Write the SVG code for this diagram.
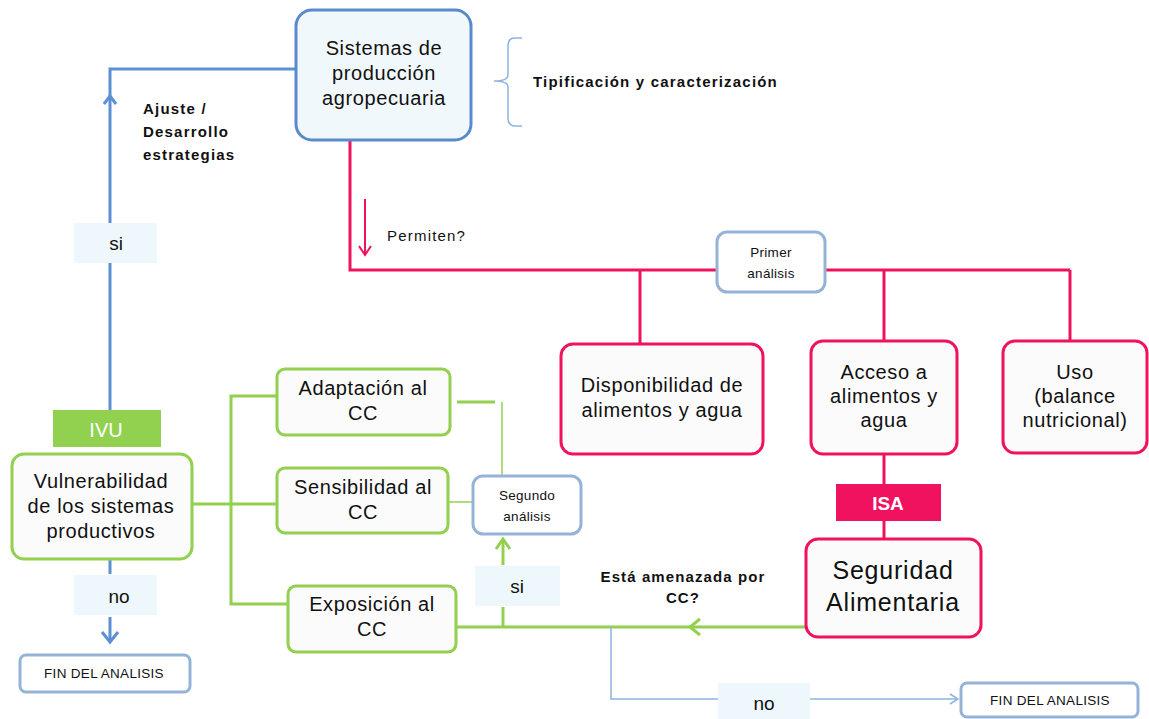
<svg xmlns="http://www.w3.org/2000/svg" width="1149" height="719" viewBox="0 0 1149 719">
  <style>
    text { font-family: "Liberation Sans", Arial, sans-serif; fill: #111; text-anchor: middle; }
    .box-blue { fill: #f1f8fb; stroke: #5a8acb; stroke-width: 3; }
    .box-lblue { fill: #ffffff; stroke: #95b3d7; stroke-width: 3; }
    .box-pink { fill: #fbfbfb; stroke: #f0125f; stroke-width: 3; }
    .box-green { fill: #fbfbfb; stroke: #92d050; stroke-width: 3; }
    .tag { fill: #eef8fc; }
    .pink { stroke: #f0125f; stroke-width: 3; fill: none; }
    .green { stroke: #92d050; stroke-width: 3; fill: none; }
    .green-thin { stroke: #92d050; stroke-width: 1.5; fill: none; }
    .blue { stroke: #5b8fd6; stroke-width: 3; fill: none; }
    .blue-thin { stroke: #8db3e2; stroke-width: 1.5; fill: none; }
    .lbl { font-weight: bold; font-size: 15px; letter-spacing: 1.2px; text-anchor: start; }
    .q { font-weight: bold; font-size: 15px; letter-spacing: 1.1px; }
    .n18 { font-size: 20px; letter-spacing: 0.6px; }
    .n13 { font-size: 13.5px; letter-spacing: 0.3px; }
  </style>

  <rect width="1149" height="719" fill="#ffffff"/>

  <!-- connectors -->
  <g id="connectors">
    <!-- blue feedback loop -->
    <polyline class="blue" points="110,410 110,69 296,69"/>
    <polyline class="blue" points="104,104 110,96 116,104" stroke-width="1.5"/>
    <line class="blue" x1="110" y1="559" x2="110" y2="574"/>
    <line class="blue" x1="110" y1="617" x2="110" y2="642"/>
    <polyline class="blue" points="102,632 110,642 118,632"/>
    <!-- brace -->
    <path d="M522,38 H515 Q508,38 508,46 V75 Q508,81 494,81 Q508,81 508,87 V118 Q508,126 515,126 H522" fill="none" stroke="#8db3e2" stroke-width="1.5"/>
    <!-- pink tree -->
    <polyline class="pink" points="350,140 350,270 717,270"/>
    <line class="pink" x1="825" y1="270" x2="1070" y2="270"/>
    <line class="pink" x1="640" y1="270" x2="640" y2="344"/>
    <line class="pink" x1="884" y1="270" x2="884" y2="341"/>
    <line class="pink" x1="1070" y1="270" x2="1070" y2="341"/>
    <line class="pink" x1="884" y1="454" x2="884" y2="484"/>
    <line class="pink" x1="884" y1="521" x2="884" y2="539"/>
    <line stroke="#f0125f" stroke-width="2" x1="365" y1="199" x2="365" y2="254"/>
    <polyline stroke="#f0125f" stroke-width="2" fill="none" points="359,246 365,255 371,246"/>
    <!-- green tree -->
    <line class="green" x1="192" y1="504" x2="277" y2="504"/>
    <polyline class="green" points="277,396 231,396 231,604 288,604"/>
    <line class="green" x1="457" y1="402" x2="495" y2="402"/>
    <line class="green-thin" x1="502" y1="402" x2="502" y2="476"/>
    <line class="green-thin" x1="448" y1="502" x2="473" y2="502"/>
    <line class="green" x1="456" y1="627" x2="806" y2="627"/>
    <polyline class="green" points="700,619 690,627 700,635"/>
    <line class="green" x1="503" y1="627" x2="503" y2="607"/>
    <line class="green" x1="503" y1="565" x2="503" y2="540"/>
    <polyline class="green" points="496,549 503,539 510,549"/>
    <!-- blue "no" branch -->
    <polyline class="blue-thin" points="611,627 611,699 718,699"/>
    <line class="blue-thin" x1="810" y1="699" x2="958" y2="699"/>
    <polyline class="blue-thin" points="950,694 958,699 950,704"/>
  </g>

  <!-- labels on connectors -->
  <g id="labels">
    <text class="lbl" x="143" y="114">Ajuste /</text>
    <text class="lbl" x="143" y="137">Desarrollo</text>
    <text class="lbl" x="143" y="160">estrategias</text>
    <text class="lbl" x="533" y="87">Tipificación y caracterización</text>
    <text x="387" y="241" font-size="15" letter-spacing="1.2" style="text-anchor:start">Permiten?</text>
    <text class="q" x="683" y="582">Está amenazada por</text>
    <text class="q" x="683" y="603">CC?</text>
    <g id="tag-si-1"><rect class="tag" x="74" y="223" width="83" height="40"/><text x="116" y="250" font-size="19">si</text></g>
    <g id="tag-no-1"><rect class="tag" x="74" y="575" width="83" height="40"/><text x="119" y="603" font-size="19">no</text></g>
    <g id="tag-si-2"><rect class="tag" x="475" y="566" width="85" height="40"/><text x="517" y="593" font-size="19">si</text></g>
    <g id="tag-no-2"><rect class="tag" x="718" y="683" width="92" height="36"/><text x="764" y="710" font-size="19">no</text></g>
  </g>

  <!-- nodes -->
  <g id="sistemas">
    <rect class="box-blue" x="296" y="10" width="175" height="130" rx="16"/>
    <text class="n18" x="384" y="55">Sistemas de</text>
    <text class="n18" x="384" y="80">producción</text>
    <text class="n18" x="384" y="105">agropecuaria</text>
  </g>
  <g id="primer">
    <rect class="box-lblue" x="717" y="232" width="108" height="60" rx="10"/>
    <text class="n13" x="771" y="257">Primer</text>
    <text class="n13" x="771" y="278">análisis</text>
  </g>
  <g id="disponibilidad">
    <rect class="box-pink" x="561" y="344" width="202" height="110" rx="12"/>
    <text class="n18" x="662" y="392">Disponibilidad de</text>
    <text class="n18" x="662" y="417">alimentos y agua</text>
  </g>
  <g id="acceso">
    <rect class="box-pink" x="811" y="341" width="146" height="113" rx="12"/>
    <text class="n18" x="884" y="379">Acceso a</text>
    <text class="n18" x="884" y="403">alimentos y</text>
    <text class="n18" x="884" y="427">agua</text>
  </g>
  <g id="uso">
    <rect class="box-pink" x="1003" y="341" width="144" height="112" rx="12"/>
    <text class="n18" x="1075" y="379">Uso</text>
    <text class="n18" x="1075" y="403">(balance</text>
    <text class="n18" x="1075" y="427">nutricional)</text>
  </g>
  <g id="isa">
    <rect x="836" y="484" width="105" height="37" fill="#f0125f"/>
    <text x="888" y="510" font-size="19" font-weight="bold" style="fill:#ffffff">ISA</text>
  </g>
  <g id="seguridad">
    <rect class="box-pink" x="806" y="539" width="175" height="98" rx="12"/>
    <text x="893" y="579" font-size="25" letter-spacing="0.8">Seguridad</text>
    <text x="893" y="611" font-size="25" letter-spacing="0.8">Alimentaria</text>
  </g>
  <g id="ivu">
    <rect x="53" y="410" width="108" height="37" fill="#92d050"/>
    <text x="106" y="437" font-size="20" style="fill:#ffffff">IVU</text>
  </g>
  <g id="vulnerabilidad">
    <rect class="box-green" x="12" y="454" width="180" height="105" rx="12"/>
    <text class="n18" x="101" y="488">Vulnerabilidad</text>
    <text class="n18" x="101" y="513">de los sistemas</text>
    <text class="n18" x="101" y="538">productivos</text>
  </g>
  <g id="adaptacion">
    <rect class="box-green" x="277" y="369" width="173" height="66" rx="8"/>
    <text class="n18" x="363" y="395">Adaptación al</text>
    <text class="n18" x="363" y="420">CC</text>
  </g>
  <g id="sensibilidad">
    <rect class="box-green" x="277" y="468" width="171" height="65" rx="8"/>
    <text class="n18" x="363" y="494">Sensibilidad al</text>
    <text class="n18" x="363" y="519">CC</text>
  </g>
  <g id="exposicion">
    <rect class="box-green" x="288" y="586" width="168" height="66" rx="8"/>
    <text class="n18" x="372" y="611">Exposición al</text>
    <text class="n18" x="372" y="636">CC</text>
  </g>
  <g id="segundo">
    <rect class="box-lblue" x="473" y="476" width="108" height="58" rx="10"/>
    <text class="n13" x="527" y="500">Segundo</text>
    <text class="n13" x="527" y="521">análisis</text>
  </g>
  <g id="fin-1">
    <rect class="box-lblue" x="20" y="655" width="170" height="37" rx="6"/>
    <text class="n13" x="104" y="678" letter-spacing="0">FIN DEL ANALISIS</text>
  </g>
  <g id="fin-2">
    <rect class="box-lblue" x="961" y="683" width="177" height="34" rx="6"/>
    <text class="n13" x="1050" y="705" letter-spacing="0">FIN DEL ANALISIS</text>
  </g>
</svg>
